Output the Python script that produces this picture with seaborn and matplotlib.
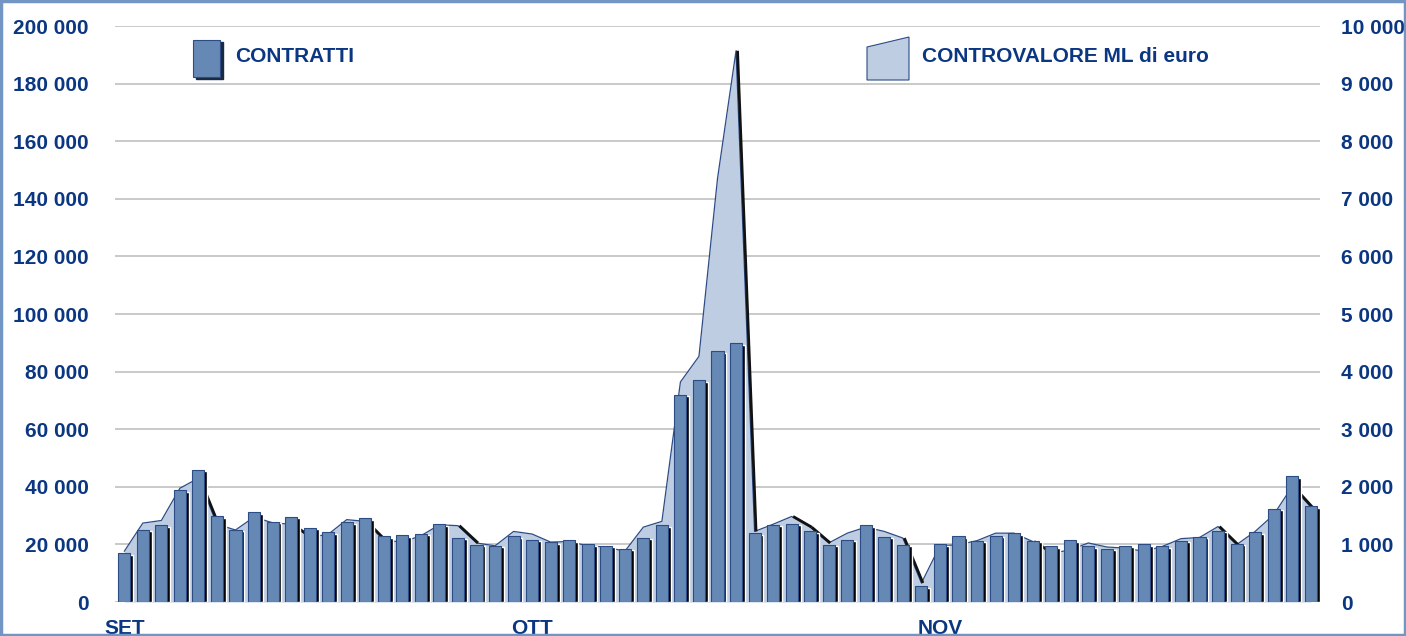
import numpy as np
import pandas as pd
import matplotlib.pyplot as plt
import seaborn as sns
from matplotlib.ticker import FuncFormatter, MultipleLocator
from matplotlib.patches import Rectangle, Polygon

# daily number of contracts (left axis)
contratti = [
    16900, 25100, 26600, 38800, 46000, 29800, 25100, 31200, 27900, 29600,
    25700, 24200, 27700, 29000, 22800, 23200, 23600, 27000, 22300, 19900,
    19500, 22800, 21600, 20800, 21500, 20100, 19500, 18500, 22300, 26600,
    72000, 77000, 87000, 89800, 23800, 26800, 27200, 24500, 19900, 21600,
    26600, 22700, 19900, 5400, 20100, 22800, 21300, 22900, 23800, 21200,
    19300, 21500, 19300, 18400, 19500, 20100, 19300, 21300, 22700, 24700,
    20300, 24200, 32400, 43600, 33300,
]

# daily traded value, millions of euro (right axis)
controvalore = [
    880, 1370, 1415, 1975, 2150, 1350, 1250, 1475, 1375, 1350,
    1125, 1175, 1430, 1400, 1075, 1040, 1150, 1340, 1325, 1025,
    975, 1225, 1180, 1040, 1050, 975, 955, 880, 1300, 1400,
    3820, 4265, 7350, 9570, 1225, 1350, 1485, 1300, 1025, 1195,
    1300, 1225, 1110, 330, 975, 995, 1065, 1195, 1195, 1050,
    850, 900, 1025, 955, 935, 880, 965, 1100, 1120, 1310,
    995, 1225, 1515, 2005, 1650,
]

mesi = ["SET", "OTT", "NOV"]
inizio_mese = [0, 22, 44]

sns.set_theme(style="white")
plt.rcParams['font.family'] = ['Liberation Sans', 'DejaVu Sans']

NAVY = "#0B3782"
BAR = "#6688B4"
EDGE = "#2C4C86"
AREA = "#BECDE1"
GRID = "#C0C0C0"

df = pd.DataFrame({"giorno": np.arange(len(contratti)),
                   "contratti": contratti,
                   "controvalore": controvalore})

W, H = 1406, 636
fig = plt.figure(figsize=(W / 100, H / 100), dpi=100)
ax = fig.add_axes([115 / W, 1 - 602 / H, 1205 / W, 576 / H])
ax2 = ax.twinx()
ax.set_zorder(ax2.get_zorder() + 1)
ax.patch.set_visible(False)

# area (right axis), drawn behind the bars
ax2.fill_between(df["giorno"], df["controvalore"], color=AREA, zorder=1, linewidth=0)
sns.lineplot(data=df, x="giorno", y="controvalore", ax=ax2, color=EDGE, linewidth=0.9, zorder=2)

# falling sides of the area get a dark edge, as in the 3D original
x = df["giorno"].to_numpy()
v = df["controvalore"].to_numpy()
for i in range(len(v) - 1):
    if v[i + 1] < v[i] - 150:
        ax2.plot([x[i] + 0.08, x[i + 1] + 0.08], [v[i], v[i + 1]], color="#111111",
                 linewidth=2.0, solid_capstyle="butt", zorder=2)

# bars with a dark shadow for the 3D look
ax.bar(df["giorno"] + 0.17, df["contratti"] - 500, width=0.62, color="black", zorder=2)
sns.barplot(data=df, x="giorno", y="contratti", ax=ax, color=BAR, saturation=1,
            width=0.65, edgecolor=EDGE, linewidth=0.8, zorder=3)

ax.set_xlim(-0.5, len(contratti) - 0.5)
ax.set_ylim(0, 200000)
ax2.set_ylim(0, 10000)
ax.yaxis.set_major_locator(MultipleLocator(20000))
ax2.yaxis.set_major_locator(MultipleLocator(1000))

fmt = FuncFormatter(lambda val, p: f"{val:,.0f}".replace(",", " "))
ax.yaxis.set_major_formatter(fmt)
ax2.yaxis.set_major_formatter(fmt)

ax2.grid(axis="y", color=GRID, linewidth=1.2)
ax2.set_axisbelow(True)
ax.grid(False)

ax.set_xticks(inizio_mese, mesi)
ax.set_xlabel("")
ax.set_ylabel("")
ax2.set_ylabel("")

for a in (ax, ax2):
    for s in a.spines.values():
        s.set_visible(False)
ax.tick_params(axis="y", length=0, pad=19, labelsize=15, labelcolor=NAVY)
ax2.tick_params(axis="y", length=0, pad=15, labelsize=15, labelcolor=NAVY)
ax.tick_params(axis="x", length=0, pad=12, labelsize=15, labelcolor=NAVY)
for lab in ax.get_xticklabels() + ax.get_yticklabels() + ax2.get_yticklabels():
    lab.set_fontweight("bold")

# legend-like labels
def fx(px):
    return px / W

def fy(py):
    return 1 - py / H

fig.patches.append(Rectangle((fx(196), fy(79)), 27 / W, 37 / H, transform=fig.transFigure,
                             color="#1A2A44", zorder=5))
fig.patches.append(Rectangle((fx(193), fy(77)), 27 / W, 37 / H, transform=fig.transFigure,
                             facecolor=BAR, edgecolor=EDGE, linewidth=0.8, zorder=6))
fig.text(fx(235), fy(56), "CONTRATTI", fontsize=15, fontweight="bold", color=NAVY, va="center")

fig.patches.append(Polygon([(fx(867), fy(47)), (fx(909), fy(37)), (fx(909), fy(80)), (fx(867), fy(80))],
                           closed=True, transform=fig.transFigure,
                           facecolor=AREA, edgecolor=EDGE, linewidth=0.8, zorder=6))
fig.text(fx(922), fy(56), "CONTROVALORE ML di euro", fontsize=15, fontweight="bold",
         color=NAVY, va="center")

# frame round the whole picture
fig.patches.append(Rectangle((0.001, 0.002), 0.998, 0.996, transform=fig.transFigure,
                             fill=False, edgecolor="#7196C4", linewidth=2.5, zorder=10))

fig.savefig("out.png", dpi=100, facecolor="white")
